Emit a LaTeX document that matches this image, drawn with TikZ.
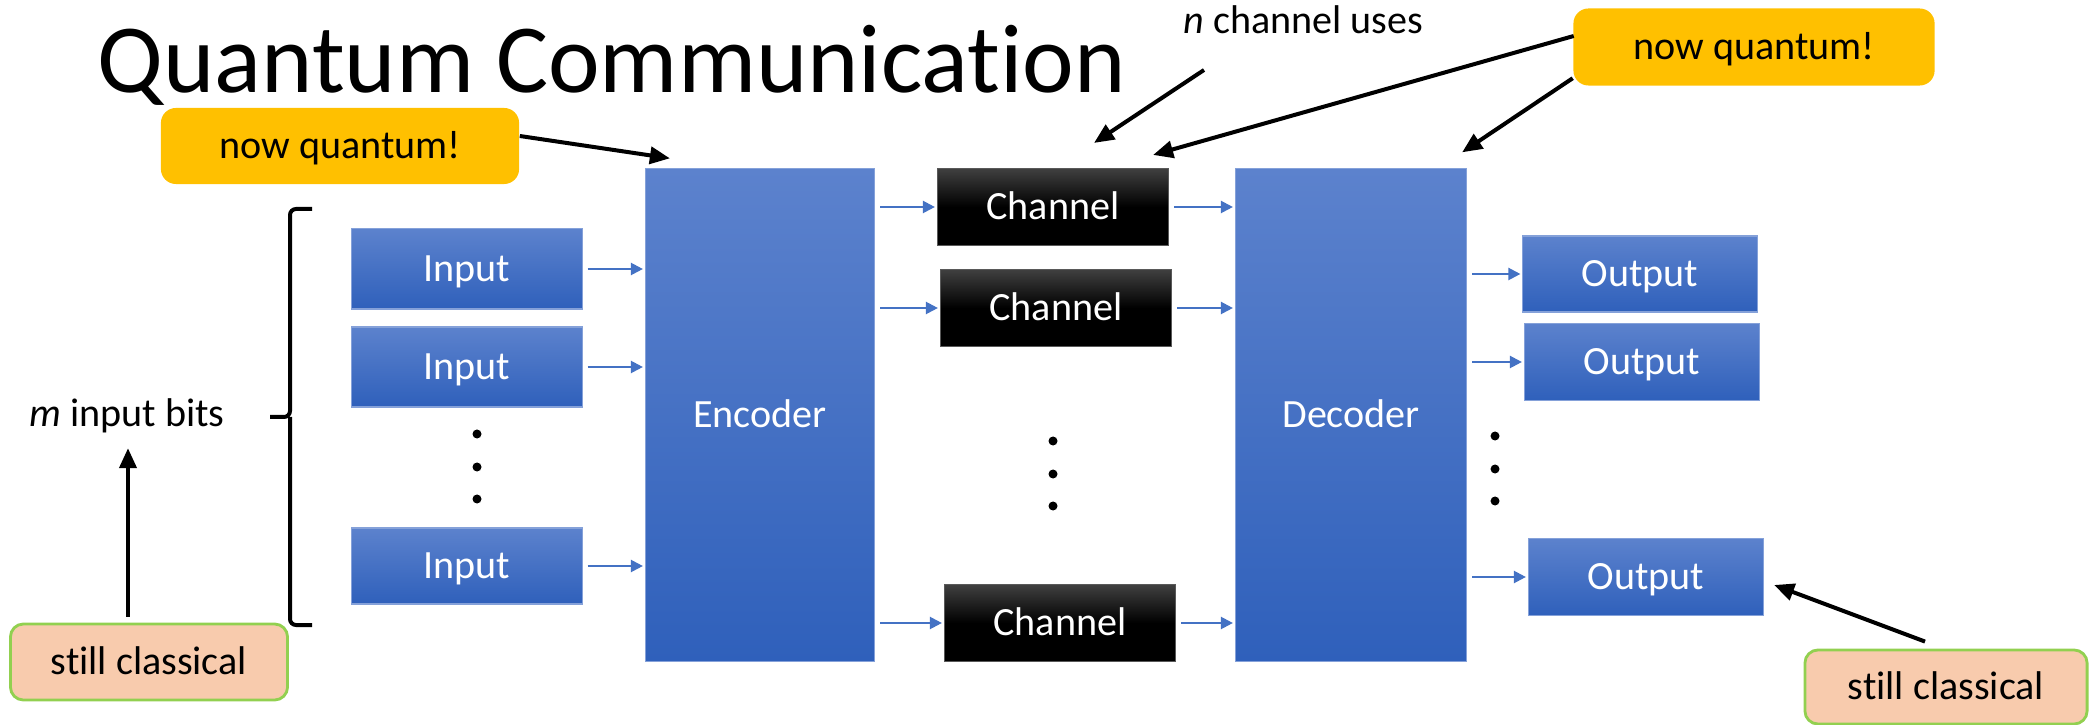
\documentclass[tikz,border=0pt]{standalone}
\usepackage{tikz}
\usepackage{xcolor}
\usepackage{fontspec}
\setmainfont{Carlito}[Ligatures=NoCommon]
\usetikzlibrary{arrows.meta}

\definecolor{boxtop}{RGB}{92,130,205}
\definecolor{boxbottom}{RGB}{47,96,187}
\definecolor{linkblue}{RGB}{68,114,196}
\definecolor{notegold}{RGB}{255,192,0}
\definecolor{peach}{RGB}{248,203,173}
\definecolor{leafgreen}{RGB}{146,208,80}

\begin{document}
\begin{tikzpicture}[x=0.01cm, y=-0.01cm, >={Triangle[length=0.2cm, width=0.17cm]},
    labelfont/.style={font=\fontsize{11.4pt}{13pt}\selectfont},
    boxtext/.style={labelfont, inner sep=0pt, text height=0.253cm, text depth=0pt},
    blockbox/.style={rectangle, draw=boxtop!75!white, line width=0.3pt, top color=boxtop, bottom color=boxbottom, text=white, boxtext},
    chanbox/.style={rectangle, draw=black!65, line width=0.3pt, top color=black!75, bottom color=black, middle color=black, text=white, minimum width=2.31cm, minimum height=0.77cm, boxtext},
    notebox/.style={rectangle, rounded corners=0.15cm, fill=notegold, text=black, boxtext},
    classicbox/.style={rectangle, rounded corners=0.13cm, draw=leafgreen, line width=0.8pt, fill=peach, text=black, boxtext},
    link/.style={-{Triangle[length=0.12cm, width=0.12cm]}, draw=linkblue, line width=0.022cm, shorten <=0.05cm, shorten >=0.02cm},
    pointer/.style={->, line width=0.04cm}]
    \useasboundingbox (0,0) rectangle (2089,725);

    \node [anchor=base west, inner sep=0pt, font=\fontsize{27.8pt}{32pt}\selectfont] (title) at (97,93) {Quantum Communication};
    \node [notebox, minimum width=3.58cm, minimum height=0.76cm] (quantumA) at (340,146) {now quantum!};
    \node [notebox, minimum width=3.61cm, minimum height=0.77cm] (quantumB) at (1754,47) {now quantum!};
    \node [anchor=base west, inner sep=0pt, labelfont] (uses) at (1183,34) {\textit{n} channel uses};
    \node [anchor=base, inner sep=0pt, labelfont] (bits) at (127,427) {\textit{m} input bits};

    \node [blockbox, minimum width=2.29cm, minimum height=4.92cm] (encoder) at (760,415) {Encoder};
    \node [blockbox, minimum width=2.31cm, minimum height=4.92cm] (decoder) at (1351,415) {Decoder};

    \node [blockbox, minimum width=2.30cm, minimum height=0.80cm] (inputA) at (467,269) {Input};
    \node [blockbox, minimum width=2.30cm, minimum height=0.80cm] (inputB) at (467,367) {Input};
    \node [blockbox, minimum width=2.30cm, minimum height=0.76cm] (inputC) at (467,566) {Input};

    \node [chanbox] (chanA) at (1053,207) {Channel};
    \node [chanbox] (chanB) at (1056,308) {Channel};
    \node [chanbox] (chanC) at (1060,623) {Channel};

    \node [blockbox, minimum width=2.34cm, minimum height=0.76cm] (outputA) at (1640,274) {Output};
    \node [blockbox, minimum width=2.35cm, minimum height=0.77cm] (outputB) at (1642,362) {Output};
    \node [blockbox, minimum width=2.35cm, minimum height=0.77cm] (outputC) at (1646,577) {Output};

    \node [classicbox, minimum width=2.77cm, minimum height=0.76cm] (classicA) at (149,662) {still classical};
    \node [classicbox, minimum width=2.82cm, minimum height=0.74cm] (classicB) at (1946,687) {still classical};

    \draw [line width=0.04cm, rounded corners=0.06cm] (312,209) -- (290,209) -- (290,417) -- (270,417);
    \draw [line width=0.04cm, rounded corners=0.06cm] (312,625) -- (290,625) -- (290,417);

    \fill (477,434) circle [radius=0.045cm];
    \fill (477,467) circle [radius=0.045cm];
    \fill (477,499) circle [radius=0.045cm];
    \fill (1053,441) circle [radius=0.045cm];
    \fill (1053,474) circle [radius=0.045cm];
    \fill (1053,506) circle [radius=0.045cm];
    \fill (1495,436) circle [radius=0.045cm];
    \fill (1495,469) circle [radius=0.045cm];
    \fill (1495,501) circle [radius=0.045cm];

    \draw [link] (inputA.east) -- (inputA.east -| encoder.west);
    \draw [link] (inputB.east) -- (inputB.east -| encoder.west);
    \draw [link] (inputC.east) -- (inputC.east -| encoder.west);
    \draw [link] (encoder.east |- chanA.west) -- (chanA.west);
    \draw [link] (encoder.east |- chanB.west) -- (chanB.west);
    \draw [link] (encoder.east |- chanC.west) -- (chanC.west);
    \draw [link] (chanA.east) -- (chanA.east -| decoder.west);
    \draw [link] (chanB.east) -- (chanB.east -| decoder.west);
    \draw [link] (chanC.east) -- (chanC.east -| decoder.west);
    \draw [link] (decoder.east |- outputA.west) -- (outputA.west);
    \draw [link] (decoder.east |- outputB.west) -- (outputB.west);
    \draw [link] (decoder.east |- outputC.west) -- (outputC.west);

    \draw [pointer] ([shift={(0,-10)}]quantumA.east) -- ([shift={(25,-10)}]encoder.north west);
    \draw [pointer] ([shift={(21,35)}]uses.south west) -- ([shift={(41,-25)}]chanA.north);
    \draw [pointer] ([shift={(1,-11)}]quantumB.west) -- ([shift={(-16,-13)}]chanA.north east);
    \draw [pointer] ([shift={(0,-8)}]quantumB.south west) -- ([shift={(-5,-16)}]decoder.north east);
    \draw [pointer] ([shift={(-21,-6)}]classicA.north) -- ([shift={(1,14)}]bits.south);
    \draw [pointer] ([shift={(-21,-7)}]classicB.north) -- ([shift={(10,8)}]outputC.east);
\end{tikzpicture}
\end{document}
